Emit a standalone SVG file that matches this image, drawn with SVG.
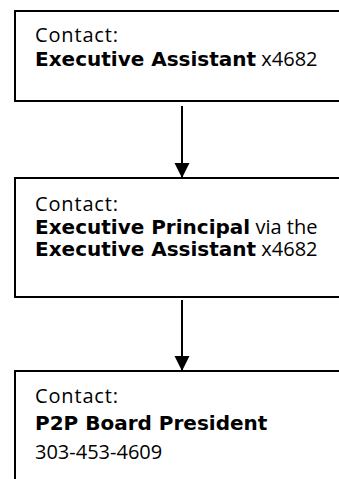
<svg xmlns="http://www.w3.org/2000/svg" width="339" height="479" viewBox="0 0 339 479">
<style>
.box{fill:#fff;stroke:#000;stroke-width:2}
.t{font-family:"Open Sans","Noto Sans","DejaVu Sans",sans-serif;font-size:20px;fill:#000}
.b{font-family:"DejaVu Sans","Open Sans",sans-serif;font-weight:bold}
.edge{stroke:#000;stroke-width:2;fill:none}
</style>
<defs>
<marker id="ah" markerUnits="userSpaceOnUse" markerWidth="16" markerHeight="16" refX="14" refY="7.5" orient="auto">
<path d="M0,0 L15,7.5 L0,15 Z" fill="#000"/>
</marker>
</defs>
<rect width="339" height="479" fill="#fff"/>
<g id="connectors">
<line class="edge" x1="182" y1="106" x2="182" y2="177" marker-end="url(#ah)"/>
<line class="edge" x1="182" y1="300" x2="182" y2="370" marker-end="url(#ah)"/>
</g>
<g id="node1">
<rect class="box" x="15" y="11" width="340" height="90"/>
<text class="t" x="35" y="42" textLength="83">Contact:</text>
<text class="t" x="35" y="66"><tspan class="b">Executive Assistant</tspan> x4682</text>
</g>
<g id="node2">
<rect class="box" x="15" y="178" width="340" height="119"/>
<text class="t" x="35" y="211" textLength="83">Contact:</text>
<text class="t" x="35" y="234"><tspan class="b">Executive Principal</tspan> via the</text>
<text class="t" x="35" y="256"><tspan class="b">Executive Assistant</tspan> x4682</text>
</g>
<g id="node3">
<rect class="box" x="15" y="371" width="340" height="120"/>
<text class="t" x="35" y="403" textLength="83">Contact:</text>
<text class="t" x="35" y="430"><tspan class="b">P2P Board President</tspan></text>
<text class="t" x="35" y="459">303-453-4609</text>
</g>
</svg>
